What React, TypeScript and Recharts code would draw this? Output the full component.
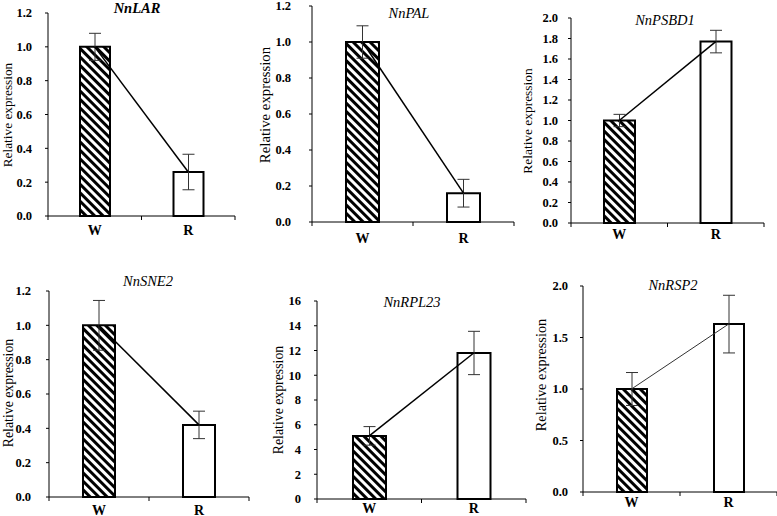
import React from 'react';
import { ComposedChart, Bar, Line, XAxis, YAxis, ErrorBar, Cell } from 'recharts';

const categories = ['W', 'R'];

const larValues = [1.0, 0.26];
const larErrors = [0.08, 0.105];
const palValues = [1.0, 0.16];
const palErrors = [0.09, 0.077];
const psbd1Values = [1.0, 1.77];
const psbd1Errors = [0.06, 0.11];
const sne2Values = [1.0, 0.42];
const sne2Errors = [0.145, 0.08];
const rpl23Values = [5.1, 11.8];
const rpl23Errors = [0.75, 1.75];
const rsp2Values = [1.0, 1.63];
const rsp2Errors = [0.16, 0.28];

const ticksTo12 = [0, 0.2, 0.4, 0.6, 0.8, 1.0, 1.2];
const ticksTo20 = [0, 0.2, 0.4, 0.6, 0.8, 1.0, 1.2, 1.4, 1.6, 1.8, 2.0];
const ticksTo16 = [0, 2, 4, 6, 8, 10, 12, 14, 16];
const ticksHalfTo20 = [0, 0.5, 1.0, 1.5, 2.0];
// band edges at integers, category labels at the half steps
const xTicks = [0, 0.5, 1, 1.5, 2];

const FONT = "'Liberation Serif', 'Times New Roman', serif";

const buildRows = (values: number[], errors: number[]) =>
  categories.map((name, i) => ({ x: i + 0.5, name, value: values[i], err: errors[i] }));

interface Panel {
  id: string;
  title: string;
  values: number[];
  errors: number[];
  ticks: number[];
  decimals: number;
  plot: { x: number; y: number; w: number; h: number };
  barSize: number;
  tickGap: number;
  xLabelGap: number;
  yLabel: { x: number; y: number; size: number };
  titlePos: { x: number; y: number; bold?: boolean };
  lineWidth: number;
  lineColor: string;
}

const panels: Panel[] = [
  {
    id: 'lar', title: 'NnLAR', values: larValues, errors: larErrors, ticks: ticksTo12, decimals: 1,
    plot: { x: 48, y: 13, w: 187, h: 203 }, barSize: 30, tickGap: 13, xLabelGap: 14,
    yLabel: { x: 8, y: 115, size: 13.3 }, titlePos: { x: 137, y: 8, bold: true }, lineWidth: 1.5, lineColor: '#000',
  },
  {
    id: 'pal', title: 'NnPAL', values: palValues, errors: palErrors, ticks: ticksTo12, decimals: 1,
    plot: { x: 312, y: 6, w: 202, h: 216 }, barSize: 33, tickGap: 18, xLabelGap: 16,
    yLabel: { x: 265, y: 105, size: 14.8 }, titlePos: { x: 409, y: 13 }, lineWidth: 1.5, lineColor: '#000',
  },
  {
    id: 'psbd1', title: 'NnPSBD1', values: psbd1Values, errors: psbd1Errors, ticks: ticksTo20, decimals: 1,
    plot: { x: 571, y: 18, w: 193, h: 205 }, barSize: 31, tickGap: 10, xLabelGap: 11,
    yLabel: { x: 528, y: 121, size: 13.4 }, titlePos: { x: 665, y: 20 }, lineWidth: 1.5, lineColor: '#000',
  },
  {
    id: 'sne2', title: 'NnSNE2', values: sne2Values, errors: sne2Errors, ticks: ticksTo12, decimals: 1,
    plot: { x: 49, y: 291, w: 200, h: 206 }, barSize: 32, tickGap: 15, xLabelGap: 13,
    yLabel: { x: 9, y: 393, size: 13.8 }, titlePos: { x: 148, y: 281 }, lineWidth: 1.5, lineColor: '#000',
  },
  {
    id: 'rpl23', title: 'NnRPL23', values: rpl23Values, errors: rpl23Errors, ticks: ticksTo16, decimals: 0,
    plot: { x: 317, y: 301, w: 209, h: 198 }, barSize: 33, tickGap: 13, xLabelGap: 9,
    yLabel: { x: 279, y: 400, size: 13.8 }, titlePos: { x: 412, y: 302 }, lineWidth: 1.5, lineColor: '#000',
  },
  {
    id: 'rsp2', title: 'NnRSP2', values: rsp2Values, errors: rsp2Errors, ticks: ticksHalfTo20, decimals: 1,
    plot: { x: 583, y: 286, w: 194, h: 206 }, barSize: 30, tickGap: 12, xLabelGap: 10,
    yLabel: { x: 541, y: 375, size: 14.3 }, titlePos: { x: 673, y: 285 }, lineWidth: 1, lineColor: '#333',
  },
];

const Y_AXIS_W = 60;
const M_TOP = 12;
const M_RIGHT = 6;
const X_AXIS_H = 30;

const CategoryTick = ({ x, y, payload, gap }: any) => {
  const v = payload.value;
  if (Number.isInteger(v)) {
    return <line x1={x} x2={x} y1={y} y2={y + 4} stroke="#000" strokeWidth={1} />;
  }
  return (
    <text
      x={x}
      y={y + gap}
      textAnchor="middle"
      dominantBaseline="central"
      style={{ fontFamily: FONT, fontWeight: 'bold', fontSize: 14 }}
      fill="#000"
    >
      {categories[Math.floor(v)]}
    </text>
  );
};

const ExpressionPanel = ({ p }: { p: Panel }) => {
  const rows = buildRows(p.values, p.errors);
  const width = Y_AXIS_W + p.plot.w + M_RIGHT;
  const height = M_TOP + p.plot.h + X_AXIS_H;
  const hatchId = `hatch-${p.id}`;
  const max = p.ticks[p.ticks.length - 1];

  return (
    <>
      <div style={{ position: 'absolute', left: p.plot.x - Y_AXIS_W, top: p.plot.y - M_TOP }}>
        <ComposedChart
          width={width}
          height={height}
          data={rows}
          margin={{ top: M_TOP, right: M_RIGHT, left: 0, bottom: 0 }}
          style={{ fontFamily: FONT }}
        >
          <defs>
            <pattern id={hatchId} patternUnits="userSpaceOnUse" width={6} height={6} patternTransform="rotate(-45)">
              <rect width={6} height={6} fill="#fff" />
              <rect width={3} height={6} fill="#000" />
            </pattern>
          </defs>
          <XAxis
            dataKey="x"
            type="number"
            domain={[0, 2]}
            ticks={xTicks}
            interval={0}
            height={X_AXIS_H}
            tickLine={false}
            tickSize={0}
            tickMargin={0}
            axisLine={{ stroke: '#000', strokeWidth: 1 }}
            tick={(props: any) => <CategoryTick {...props} gap={p.xLabelGap} />}
          />
          <YAxis
            width={Y_AXIS_W}
            domain={[0, max]}
            ticks={p.ticks}
            interval={0}
            tickSize={3}
            tickMargin={p.tickGap}
            axisLine={{ stroke: '#000', strokeWidth: 1 }}
            tickLine={{ stroke: '#000' }}
            tickFormatter={(v: number) => v.toFixed(p.decimals)}
            tick={{ fontWeight: 'bold', fontSize: 12.5, fill: '#000', style: { fontFamily: FONT } }}
          />
          <Bar dataKey="value" barSize={p.barSize} stroke="#000" strokeWidth={2} isAnimationActive={false}>
            {rows.map((r, i) => (
              <Cell key={r.name} fill={i === 0 ? `url(#${hatchId})` : '#fff'} />
            ))}
            <ErrorBar dataKey="err" direction="y" width={6} stroke="#333" strokeWidth={1} />
          </Bar>
          <Line
            dataKey="value"
            stroke={p.lineColor}
            strokeWidth={p.lineWidth}
            dot={false}
            activeDot={false}
            isAnimationActive={false}
          />
        </ComposedChart>
      </div>
      <div
        style={{
          position: 'absolute',
          left: p.titlePos.x,
          top: p.titlePos.y,
          transform: 'translate(-50%, -50%)',
          fontFamily: FONT,
          fontStyle: 'italic',
          fontWeight: p.titlePos.bold ? 'bold' : 'normal',
          fontSize: 14.5,
          whiteSpace: 'nowrap',
          lineHeight: 1,
        }}
      >
        {p.title}
      </div>
      <div
        style={{
          position: 'absolute',
          left: p.yLabel.x,
          top: p.yLabel.y,
          transform: 'translate(-50%, -50%) rotate(-90deg)',
          fontFamily: FONT,
          fontSize: p.yLabel.size,
          whiteSpace: 'nowrap',
          lineHeight: 1,
        }}
      >
        Relative expression
      </div>
    </>
  );
};

export default function App() {
  return (
    <div
      style={{
        position: 'absolute',
        left: 0,
        top: 0,
        width: 777,
        height: 516,
        overflow: 'hidden',
        background: '#fff',
        fontFamily: FONT,
      }}
    >
      {panels.map((p) => (
        <ExpressionPanel key={p.id} p={p} />
      ))}
    </div>
  );
}
